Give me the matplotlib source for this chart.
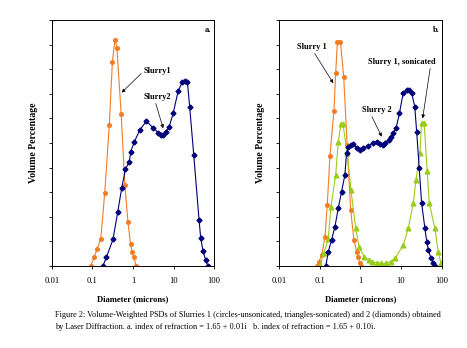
import matplotlib
matplotlib.use("Agg")
import matplotlib.pyplot as plt

# ---------------- data ----------------
# Panel a
a_s1_x = [0.09, 0.11, 0.13, 0.16, 0.20, 0.26, 0.31, 0.36, 0.40, 0.51, 0.63, 0.75, 0.87, 0.95, 1.05, 1.2]
a_s1_y = [0.0, 0.35, 0.7, 1.1, 2.95, 5.73, 8.3, 9.2, 8.88, 6.18, 3.3, 1.8, 0.9, 0.55, 0.35, 0.0]

a_s2_x = [0.18, 0.22, 0.32, 0.42, 0.525, 0.65, 0.81, 0.88, 1.08, 1.47, 2.15, 3.1, 4.2, 4.8, 5.6, 6.5,
          7.8, 9.8, 13, 16.6, 19, 22, 25, 31.6, 42.7, 47, 53.5, 62, 71]
a_s2_y = [0, 0.35, 1.08, 2.2, 3.16, 3.93, 4.24, 4.65, 5.05, 5.53, 5.89, 5.62, 5.42, 5.33, 5.33, 5.46,
          5.66, 6.2, 7.11, 7.49, 7.53, 7.49, 6.48, 4.51, 1.87, 1.12, 0.62, 0.24, 0]

# Panel b
b_s1_x = [0.086, 0.095, 0.111, 0.134, 0.152, 0.177, 0.222, 0.245, 0.27, 0.32, 0.386, 0.47, 0.573,
          0.69, 0.805, 0.87, 0.97, 1.02]
b_s1_y = [0, 0.18, 0.45, 1.19, 2.48, 4.48, 6.3, 7.83, 9.12, 9.12, 7.7, 4.9, 2.28, 1.06, 0.58, 0.38, 0.11, 0]

b_son_x = [0.1, 0.126, 0.161, 0.187, 0.245, 0.284, 0.33, 0.37, 0.473, 0.583, 0.76, 0.92, 1.24, 1.62,
           1.9, 2.5, 3.2, 4.2, 5.5, 7.1, 11.3, 15, 20, 23.3, 29, 32, 37, 44, 49.5, 68, 82, 96]
b_son_y = [0.04, 0.52, 1.1, 2.41, 3.7, 5.05, 5.77, 5.77, 4.58, 3.09, 1.53, 0.79, 0.38, 0.24, 0.18,
           0.13, 0.11, 0.11, 0.18, 0.31, 0.85, 1.53, 2.55, 3.5, 4.58, 5.8, 5.8, 3.85, 2.55, 1.53, 0.58, 0.11]

b_s2_x = [0.14, 0.161, 0.194, 0.235, 0.284, 0.342, 0.413, 0.453, 0.50, 0.60, 0.665, 0.80, 1.0, 1.17,
          1.55, 2.0, 2.6, 3.0, 3.5, 4.0, 4.9, 5.6, 6.4, 7.5, 9.1, 11.2, 13.6, 15.8, 18.3, 21.7, 24.2,
          28, 32, 38.7, 42.8, 47, 54.6, 62, 68]
b_s2_y = [0, 0.58, 1.06, 1.6, 2.35, 3.02, 3.7, 4.58, 4.85, 4.92, 4.96, 4.8, 4.72, 4.8, 4.89, 4.99,
          5.05, 4.95, 4.92, 4.99, 5.12, 5.26, 5.39, 5.6, 6.2, 7.02, 7.15, 7.15, 7.02, 6.48, 5.46, 3.97,
          2.55, 1.53, 0.99, 0.65, 0.31, 0.13, 0]

xticks = [0.01, 0.1, 1, 10, 100]
xtick_labels = ["0.01", "0.1", "1", "10", "100"]

caption = ("Figure 2: Volume-Weighted PSDs of Slurries 1 (circles-unsonicated, triangles-sonicated) and 2 (diamonds) obtained\n"
           "by Laser Diffraction. a. index of refraction = 1.65 + 0.01i   b. index of refraction = 1.65 + 0.10i.")

ORANGE = "#F47C25"
NAVY = "#00007A"
GREEN = "#9ACD1A"

plt.rcParams['font.family'] = ['Liberation Serif', 'DejaVu Serif']

fig = plt.figure(figsize=(4.67, 3.48), dpi=100)
ax_a = fig.add_axes([0.1113, 0.2356, 0.347, 0.707])
ax_b = fig.add_axes([0.598, 0.2356, 0.3478, 0.707])

def style(ax, letter):
    ax.set_xscale('log')
    ax.set_xlim(0.01, 100)
    ax.set_ylim(0, 10)
    ax.set_xticks(xticks)
    ax.set_xticklabels(xtick_labels, fontsize=6.2)
    ax.xaxis.set_minor_locator(matplotlib.ticker.NullLocator())
    ax.set_yticks(range(0, 11))
    ax.set_yticklabels([])
    ax.tick_params(axis='x', direction='out', length=2.0, width=0.6, pad=6)
    ax.tick_params(axis='y', direction='out', length=2.5, width=0.6)
    for s in ax.spines.values():
        s.set_linewidth(0.7)
    ax.set_xlabel("Diameter (microns)", fontsize=6.2, fontweight='bold', labelpad=7)
    ax.set_ylabel("Volume Percentage", fontsize=7, fontweight='bold', labelpad=4)
    ax.text(0.985, 0.975, letter, transform=ax.transAxes, ha='right', va='top',
            fontsize=6, fontweight='bold')

arrow = dict(arrowstyle='-|>', color='black', lw=0.5, mutation_scale=5, shrinkA=0, shrinkB=0)

# Panel a
ax_a.plot(a_s1_x, a_s1_y, color=ORANGE, lw=0.8, marker='o', ms=2.6, mec=ORANGE, mfc=ORANGE)
ax_a.plot(a_s2_x, a_s2_y, color=NAVY, lw=0.8, marker='D', ms=2.5, mec=NAVY, mfc=NAVY)
style(ax_a, "a.")
ax_a.annotate("Slurry1", xy=(0.527, 7.05), xytext=(1.86, 7.93), fontsize=6, fontweight='bold',
              ha='left', va='center', arrowprops=dict(arrow, relpos=(0, 0.5)))
ax_a.annotate("Slurry2", xy=(5.56, 5.6), xytext=(1.86, 6.88), fontsize=6, fontweight='bold',
              ha='left', va='center', arrowprops=dict(arrow, relpos=(0.4, 0)))

# Panel b
ax_b.plot(b_s1_x, b_s1_y, color=ORANGE, lw=0.8, marker='o', ms=2.6, mec=ORANGE, mfc=ORANGE)
ax_b.plot(b_son_x, b_son_y, color=GREEN, lw=0.8, marker='^', ms=3.4, mec=GREEN, mfc=GREEN)
ax_b.plot(b_s2_x, b_s2_y, color=NAVY, lw=0.8, marker='D', ms=2.5, mec=NAVY, mfc=NAVY)
style(ax_b, "b.")
ax_b.annotate("Slurry 1", xy=(0.214, 7.43), xytext=(0.0268, 8.91), fontsize=6, fontweight='bold',
              ha='left', va='center', arrowprops=dict(arrow, relpos=(0.55, 0)))
ax_b.annotate("Slurry 2", xy=(3.33, 5.26), xytext=(1.07, 6.34), fontsize=6, fontweight='bold',
              ha='left', va='center', arrowprops=dict(arrow, relpos=(0.3, 0)))
ax_b.annotate("Slurry 1, sonicated", xy=(34, 6.0), xytext=(1.56, 8.3), fontsize=6, fontweight='bold',
              ha='left', va='center', arrowprops=dict(arrow, relpos=(0.92, 0)))

fig.text(0.118, 0.078, caption, fontsize=5.95, ha='left', va='center', linespacing=1.6)

fig.savefig("out.png", dpi=100)
